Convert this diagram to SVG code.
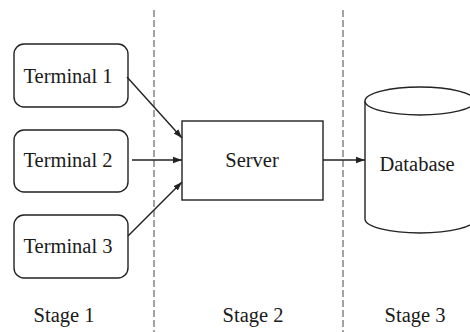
<svg xmlns="http://www.w3.org/2000/svg" width="470" height="332" viewBox="0 0 470 332">
<style>
.box{fill:#fff;stroke:#222;stroke-width:1.4}
.t{font-family:"Liberation Serif","Times New Roman",serif;font-size:20.5px;fill:#1a1a1a;text-anchor:middle}
.c{stroke:#222;stroke-width:1.4;fill:none}
.d{stroke:#666;stroke-width:1.2;stroke-dasharray:7 3;fill:none}
</style>
<defs>
<marker id="ah" viewBox="0 0 10 10" refX="10" refY="5" markerWidth="9" markerHeight="9" markerUnits="userSpaceOnUse" orient="auto">
<path d="M0,1.5 L10,5 L0,8.5 Z" fill="#222"/>
</marker>
</defs>
<rect width="470" height="332" fill="#fff"/>
<g id="dividers">
<line class="d" x1="154" y1="10" x2="154" y2="332"/>
<line class="d" x1="343" y1="10" x2="343" y2="332"/>
</g>
<g id="terminal1"><rect class="box" x="14" y="44" width="114" height="63" rx="10"/><text class="t" x="68" y="83">Terminal 1</text></g>
<g id="terminal2"><rect class="box" x="14" y="130" width="114" height="62" rx="10"/><text class="t" x="68" y="167">Terminal 2</text></g>
<g id="terminal3"><rect class="box" x="14" y="215" width="114" height="63" rx="10"/><text class="t" x="68" y="253">Terminal 3</text></g>
<g id="server"><rect class="box" x="182" y="121" width="141" height="79"/><text class="t" x="252" y="167">Server</text></g>
<g id="database">
<path class="box" d="M365,101 L365,219 A55,14 0 0 0 475,219 L475,101"/>
<ellipse class="box" cx="420" cy="101" rx="55" ry="14"/>
<text class="t" x="417" y="171">Database</text>
</g>
<g id="connectors">
<line class="c" x1="127" y1="77" x2="182" y2="138" marker-end="url(#ah)"/>
<line class="c" x1="132" y1="160" x2="182" y2="160" marker-end="url(#ah)"/>
<line class="c" x1="128" y1="236" x2="182" y2="182" marker-end="url(#ah)"/>
<line class="c" x1="323" y1="160" x2="365" y2="160" marker-end="url(#ah)"/>
</g>
<g id="labels">
<text class="t" x="64" y="322">Stage 1</text>
<text class="t" x="253" y="322">Stage 2</text>
<text class="t" x="415" y="322">Stage 3</text>
</g>
</svg>
